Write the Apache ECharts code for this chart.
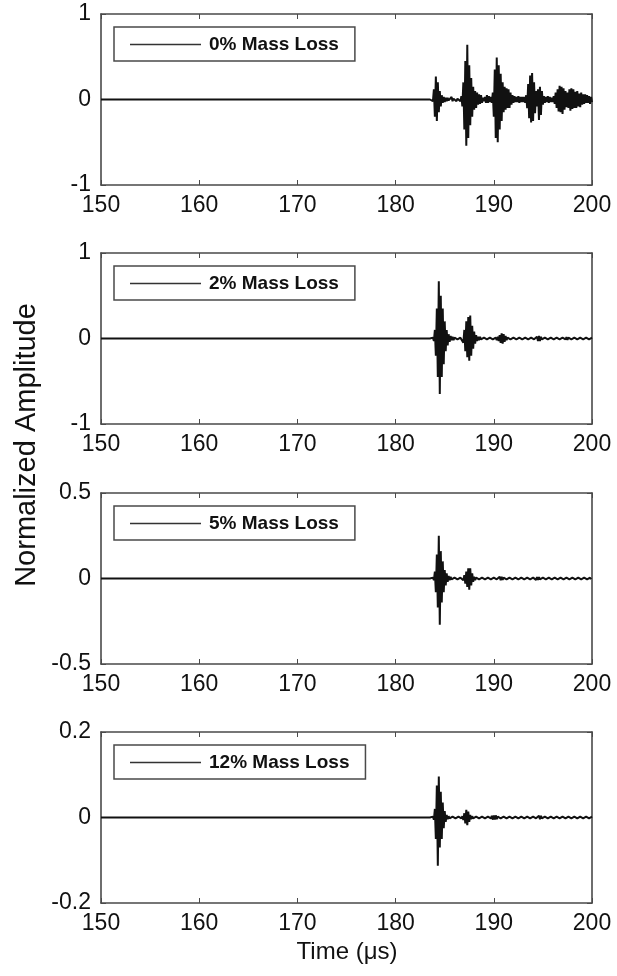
<!DOCTYPE html>
<html>
<head>
<meta charset="utf-8">
<script src="https://cdn.jsdelivr.net/npm/echarts@6/dist/echarts.min.js"></script>
<style>
html,body{margin:0;padding:0;background:#fff;}
#chart{width:617px;height:976px;}
</style>
</head>
<body>
<div id="chart"></div>
<script>
// ---- data ----
const panelNames = ['0% Mass Loss', '2% Mass Loss', '5% Mass Loss', '12% Mass Loss'];
const yLimits = [1, 1, 0.5, 0.2];
const xTicks = [150, 160, 170, 180, 190, 200];
const baselineStart = [150, 0];          // flat trace before the first arrival
const sampleStart = 183.5;               // time of first listed peak (µs)
const sampleStep = 0.1;                  // spacing between listed peaks (µs)

// peak values (alternating half-cycles) for each trace, 183.5 µs .. 200 µs
const trace0 = [
  0, 0, 0.01, -0.02, 0.12, -0.2, 0.27, -0.25, 0.2, -0.15,
  0.1, -0.08, 0.05, -0.04, 0.03, -0.03, 0.02, -0.02, 0.02, -0.01,
  0.01, -0.02, 0.03, -0.02, 0.01, -0.01, 0.02, -0.02, 0.01, -0.01,
  0.01, -0.02, 0.04, -0.08, 0.2, -0.35, 0.45, -0.54, 0.64, -0.45,
  0.4, -0.3, 0.25, -0.2, 0.15, -0.12, 0.1, -0.1, 0.08, -0.06,
  0.06, -0.05, 0.05, -0.04, 0.02, -0.02, 0.03, -0.04, 0.05, -0.04,
  0.04, -0.03, 0.03, -0.04, 0.08, -0.2, 0.35, -0.45, 0.49, -0.5,
  0.4, -0.35, 0.3, -0.25, 0.2, -0.15, 0.15, -0.12, 0.13, -0.1,
  0.12, -0.1, 0.08, -0.06, 0.05, -0.04, 0.04, -0.03, 0.03, -0.03,
  0.04, -0.04, 0.03, -0.03, 0.03, -0.03, 0.03, -0.04, 0.05, -0.1,
  0.18, -0.22, 0.28, -0.27, 0.31, -0.25, 0.2, -0.16, 0.1, -0.08,
  0.12, -0.24, 0.15, -0.18, 0.1, -0.06, 0.04, -0.04, 0.03, -0.03,
  0.04, -0.04, 0.03, -0.03, 0.02, -0.03, 0.04, -0.05, 0.08, -0.1,
  0.12, -0.14, 0.16, -0.15, 0.15, -0.17, 0.13, -0.12, 0.1, -0.09,
  0.08, -0.1, 0.12, -0.13, 0.13, -0.11, 0.12, -0.1, 0.09, -0.1,
  0.1, -0.08, 0.07, -0.09, 0.08, -0.06, 0.06, -0.05, 0.06, -0.04,
  0.05, -0.04, 0.04, -0.05, 0.03, -0.03
];
const trace1 = [
  0, 0, 0, 0.01, -0.03, 0.1, -0.2, 0.35, -0.45, 0.67,
  -0.65, 0.5, -0.45, 0.35, -0.3, 0.2, -0.15, 0.1, -0.08, 0.05,
  -0.04, 0.03, -0.02, 0.02, -0.02, 0.01, -0.01, 0.01, -0.01, 0.01,
  -0.01, 0.01, -0.01, 0.02, -0.05, 0.1, -0.15, 0.2, -0.22, 0.25,
  -0.26, 0.27, -0.2, 0.15, -0.12, 0.08, -0.06, 0.04, -0.03, 0.02,
  -0.02, 0.02, -0.01, 0.01, -0.01, 0.01, -0.01, 0.01, -0.01, 0.01,
  -0.01, 0.01, -0.01, 0.01, -0.01, 0.01, -0.01, 0.01, -0.02, 0.02,
  -0.03, 0.04, -0.05, 0.06, -0.06, 0.05, -0.04, 0.03, -0.02, 0.01,
  -0.01, 0.01, -0.01, 0.01, -0.01, 0.01, -0.01, 0.01, -0.01, 0.01,
  -0.01, 0.01, -0.01, 0.01, -0.01, 0.01, -0.01, 0.01, -0.01, 0.01,
  -0.01, 0.01, -0.01, 0.01, -0.01, 0.01, -0.01, 0.01, -0.02, 0.02,
  -0.03, 0.03, -0.03, 0.02, -0.01, 0.01, -0.01, 0.01, -0.01, 0.01,
  -0.01, 0.01, -0.01, 0.01, -0.01, 0.01, -0.01, 0.01, -0.01, 0.01,
  -0.01, 0.01, -0.01, 0.01, -0.01, 0.01, -0.01, 0.01, -0.01, 0.015,
  -0.015, 0.01, -0.01, 0.01, -0.01, 0.01, -0.01, 0.01, -0.01, 0.01,
  -0.01, 0.01, -0.01, 0.01, -0.01, 0.01, -0.01, 0.01, -0.01, 0.01,
  -0.01, 0.01, -0.01, 0.01, -0.01, 0.01
];
const trace2 = [
  0, 0, 0, 0.005, -0.01, 0.04, -0.08, 0.14, -0.17, 0.25,
  -0.27, 0.16, -0.14, 0.1, -0.08, 0.05, -0.04, 0.03, -0.02, 0.015,
  -0.01, 0.01, -0.005, 0.005, -0.005, 0.005, -0.005, 0.005, -0.005, 0.005,
  -0.005, 0.005, -0.005, 0.005, -0.01, 0.02, -0.03, 0.04, -0.05, 0.06,
  -0.065, 0.06, -0.04, 0.03, -0.02, 0.01, -0.01, 0.005, -0.005, 0.005,
  -0.005, 0.005, -0.005, 0.005, -0.005, 0.005, -0.005, 0.005, -0.005, 0.005,
  -0.005, 0.005, -0.005, 0.005, -0.005, 0.005, -0.005, 0.005, -0.005, 0.005,
  -0.008, 0.01, -0.01, 0.01, -0.008, 0.005, -0.005, 0.005, -0.005, 0.005,
  -0.005, 0.005, -0.005, 0.005, -0.005, 0.005, -0.005, 0.005, -0.005, 0.005,
  -0.005, 0.005, -0.005, 0.005, -0.005, 0.005, -0.005, 0.005, -0.005, 0.005,
  -0.005, 0.005, -0.005, 0.005, -0.005, 0.005, -0.005, 0.005, -0.008, 0.008,
  -0.008, 0.008, -0.005, 0.005, -0.005, 0.005, -0.005, 0.005, -0.005, 0.005,
  -0.005, 0.005, -0.005, 0.005, -0.005, 0.005, -0.005, 0.005, -0.005, 0.005,
  -0.005, 0.005, -0.005, 0.005, -0.005, 0.005, -0.005, 0.005, -0.005, 0.005,
  -0.005, 0.005, -0.005, 0.005, -0.005, 0.005, -0.005, 0.005, -0.005, 0.005,
  -0.005, 0.005, -0.005, 0.005, -0.005, 0.005, -0.005, 0.005, -0.005, 0.005,
  -0.005, 0.005, -0.005, 0.005, -0.005, 0.005
];
const trace3 = [
  0, 0, 0, 0.002, -0.005, 0.02, -0.05, 0.075, -0.113, 0.096,
  -0.07, 0.06, -0.05, 0.035, -0.025, 0.015, -0.01, 0.006, -0.004, 0.003,
  -0.002, 0.002, -0.002, 0.002, -0.002, 0.002, -0.002, 0.002, -0.002, 0.002,
  -0.002, 0.002, -0.002, 0.003, -0.006, 0.01, -0.014, 0.018, -0.018, 0.014,
  -0.01, 0.006, -0.004, 0.003, -0.002, 0.002, -0.002, 0.002, -0.002, 0.002,
  -0.002, 0.002, -0.002, 0.002, -0.002, 0.002, -0.002, 0.002, -0.002, 0.002,
  -0.002, 0.002, -0.002, 0.004, -0.005, 0.005, -0.005, 0.005, -0.004, 0.002,
  -0.002, 0.002, -0.002, 0.002, -0.002, 0.002, -0.002, 0.002, -0.002, 0.002,
  -0.002, 0.002, -0.002, 0.002, -0.002, 0.002, -0.002, 0.002, -0.002, 0.002,
  -0.002, 0.002, -0.002, 0.002, -0.002, 0.002, -0.002, 0.002, -0.002, 0.002,
  -0.002, 0.002, -0.002, 0.002, -0.002, 0.002, -0.002, 0.002, -0.002, 0.002,
  -0.002, 0.004, -0.004, 0.004, -0.002, 0.002, -0.002, 0.002, -0.002, 0.002,
  -0.002, 0.002, -0.002, 0.002, -0.002, 0.002, -0.002, 0.002, -0.002, 0.002,
  -0.002, 0.002, -0.002, 0.002, -0.002, 0.002, -0.002, 0.002, -0.002, 0.002,
  -0.002, 0.002, -0.002, 0.002, -0.002, 0.002, -0.002, 0.002, -0.002, 0.002,
  -0.002, 0.002, -0.002, 0.002, -0.002, 0.002, -0.002, 0.002, -0.002, 0.002,
  -0.002, 0.002, -0.002, 0.002, -0.002, 0.002
];
const traces = [trace0, trace1, trace2, trace3];

// ---- layout / style ----
const gridLeft = 101, gridWidth = 491, gridHeight = 171;
const gridTops = [14, 253, 493, 732];
const frameColor = '#4a4a4a';
const textColor = '#111';
const fontFam = '"Liberation Sans", Arial, Helvetica, sans-serif';

const chart = echarts.init(document.getElementById('chart'), null, {renderer: 'canvas'});

const grids = [], xAxes = [], yAxes = [], series = [], legends = [];
gridTops.forEach((top, i) => {
  grids.push({left: gridLeft, top: top, width: gridWidth, height: gridHeight, show: false, outerBoundsMode: 'none', containLabel: false});
  const axisLine = {show: true, onZero: false, lineStyle: {color: frameColor, width: 1.6}};
  const tick = {show: true, inside: true, length: 5, lineStyle: {color: frameColor, width: 1}};
  xAxes.push({
    type: 'value', gridIndex: i, position: 'bottom', min: xTicks[0], max: xTicks[xTicks.length - 1], interval: 10,
    axisLine: axisLine, axisTick: tick, splitLine: {show: false},
    axisLabel: {show: true, color: textColor, fontSize: 23, fontFamily: fontFam, margin: 9}
  });
  xAxes.push({
    type: 'value', gridIndex: i, position: 'top', min: xTicks[0], max: xTicks[xTicks.length - 1], interval: 10,
    axisLine: axisLine, axisTick: tick, splitLine: {show: false}, axisLabel: {show: false}
  });
  const lim = yLimits[i];
  yAxes.push({
    type: 'value', gridIndex: i, position: 'left', min: -lim, max: lim, interval: lim,
    axisLine: axisLine, axisTick: tick, splitLine: {show: false},
    axisLabel: {show: true, color: textColor, fontSize: 23, fontFamily: fontFam, margin: 10}
  });
  yAxes.push({
    type: 'value', gridIndex: i, position: 'right', min: -lim, max: lim, interval: lim,
    axisLine: axisLine, axisTick: tick, splitLine: {show: false}, axisLabel: {show: false}
  });
  const pts = [baselineStart.slice()];
  traces[i].forEach((v, k) => pts.push([+(sampleStart + k * sampleStep).toFixed(2), v]));
  series.push({
    name: panelNames[i], type: 'line', xAxisIndex: i * 2, yAxisIndex: i * 2,
    data: pts, symbol: 'none', showSymbol: false, animation: false,
    lineStyle: {color: '#111', width: 2}, itemStyle: {color: '#111'}
  });
  legends.push({
    show: true,
    data: [{name: panelNames[i], icon: 'rect'}], left: 114, top: top + 13, orient: 'horizontal',
    backgroundColor: '#fff', borderColor: frameColor, borderWidth: 1.5, borderRadius: 0,
    padding: [8, 16, 7, 16], itemWidth: 71, itemHeight: 1.5, itemGap: 5, selectedMode: false,
    itemStyle: {color: '#333', borderWidth: 0},
    textStyle: {color: textColor, fontSize: 19, fontWeight: 'bold', fontFamily: fontFam, padding: [0, 0, 0, 3]}
  });
});

chart.setOption({
  animation: false,
  backgroundColor: '#fff',
  grid: grids, xAxis: xAxes, yAxis: yAxes, series: series, legend: legends,
  graphic: [
    {type: 'text', x: 347, y: 952, style: {text: 'Time (μs)', fill: textColor, font: '24px ' + fontFam, textAlign: 'center', textVerticalAlign: 'middle'}},
    {type: 'text', x: 27, y: 445, rotation: Math.PI / 2, style: {text: 'Normalized Amplitude', fill: textColor, font: '29px ' + fontFam, textAlign: 'center', textVerticalAlign: 'middle'}}
  ]
});
</script>
</body>
</html>
